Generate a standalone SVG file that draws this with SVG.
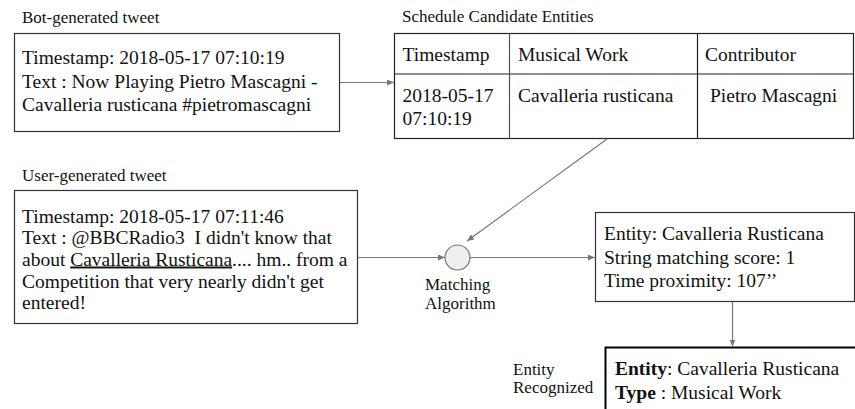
<svg xmlns="http://www.w3.org/2000/svg" width="855" height="409" viewBox="0 0 855 409">
<style>
.t{font-family:"Liberation Serif","Times New Roman",serif;font-size:19.5px;fill:#111}
.l{font-family:"Liberation Serif","Times New Roman",serif;font-size:17px;fill:#111}
.box{fill:#fff;stroke:#333;stroke-width:1.2}
.edge{stroke:#777;stroke-width:1.2;fill:none}
</style>
<defs>
<marker id="ah" markerWidth="7" markerHeight="6" refX="7" refY="3" orient="auto" markerUnits="userSpaceOnUse">
<path d="M0,0 L7,3 L0,6 Z" fill="#777"/>
</marker>
</defs>
<rect width="855" height="409" fill="#fff"/>

<g id="bot-tweet">
<text class="l" x="22" y="23">Bot-generated tweet</text>
<rect class="box" x="14.5" y="33.5" width="325" height="98"/>
<text class="t" x="22" y="64">Timestamp: 2018-05-17 07:10:19</text>
<text class="t" x="22" y="87.5">Text : Now Playing Pietro Mascagni -</text>
<text class="t" x="22" y="110.5">Cavalleria rusticana #pietromascagni</text>
</g>

<g id="schedule">
<text class="l" x="402" y="22">Schedule Candidate Entities</text>
<rect x="394.5" y="33.5" width="459" height="105" fill="#fff" stroke="#222" stroke-width="1.2"/>
<line x1="394.5" y1="74" x2="853.5" y2="74" stroke="#222" stroke-width="1.2"/>
<line x1="509.5" y1="33.5" x2="509.5" y2="138.5" stroke="#555" stroke-width="1.2"/>
<line x1="697.5" y1="33.5" x2="697.5" y2="138.5" stroke="#222" stroke-width="1.2"/>
<text class="t" x="402.5" y="60.5">Timestamp</text>
<text class="t" x="518" y="60.5">Musical Work</text>
<text class="t" x="705" y="60.5">Contributor</text>
<text class="t" x="402.5" y="101.5">2018-05-17</text>
<text class="t" x="402.5" y="125">07:10:19</text>
<text class="t" x="518" y="101.5">Cavalleria rusticana</text>
<text class="t" x="710" y="101.5">Pietro Mascagni</text>
</g>

<g id="user-tweet">
<text class="l" x="22" y="180.5">User-generated tweet</text>
<rect class="box" x="14.5" y="190.5" width="343" height="133"/>
<text class="t" x="22" y="222.5">Timestamp: 2018-05-17 07:11:46</text>
<text class="t" x="22" y="244" xml:space="preserve">Text : @BBCRadio3  I didn't know that</text>
<text class="t" x="22" y="265.5">about <tspan text-decoration="underline">Cavalleria Rusticana</tspan>.... hm.. from a</text>
<text class="t" x="22" y="287.5">Competition that very nearly didn't get</text>
<text class="t" x="22" y="309">entered!</text>
</g>

<g id="matching">
<circle cx="457.5" cy="257.5" r="12.5" fill="#eee" stroke="#777" stroke-width="1.2"/>
<text class="l" x="425" y="290">Matching</text>
<text class="l" x="425" y="308.5">Algorithm</text>
</g>

<g id="entity-candidate">
<rect class="box" x="595.5" y="212.5" width="259" height="89"/>
<text class="t" x="604" y="240">Entity: Cavalleria Rusticana</text>
<text class="t" x="604" y="263.5">String matching score: 1</text>
<text class="t" x="604" y="286.5">Time proximity: 107’’</text>
</g>

<g id="entity-recognized">
<text class="l" x="513" y="375">Entity</text>
<text class="l" x="513" y="393">Recognized</text>
<rect x="605.5" y="347.5" width="260" height="80" fill="#fff" stroke="#000" stroke-width="2"/>
<text class="t" x="615" y="375"><tspan font-weight="bold">Entity</tspan>: Cavalleria Rusticana</text>
<text class="t" x="615" y="398.5"><tspan font-weight="bold">Type</tspan> : Musical Work</text>
</g>

<g id="connectors">
<line class="edge" x1="340" y1="82.5" x2="394" y2="82.5" marker-end="url(#ah)"/>
<line class="edge" x1="607" y1="139" x2="467" y2="241" marker-end="url(#ah)"/>
<line class="edge" x1="358" y1="257.5" x2="445" y2="257.5" marker-end="url(#ah)"/>
<line class="edge" x1="470" y1="257.5" x2="595" y2="257.5" marker-end="url(#ah)"/>
<line class="edge" x1="732.5" y1="302" x2="732.5" y2="346.5" marker-end="url(#ah)"/>
</g>
</svg>
